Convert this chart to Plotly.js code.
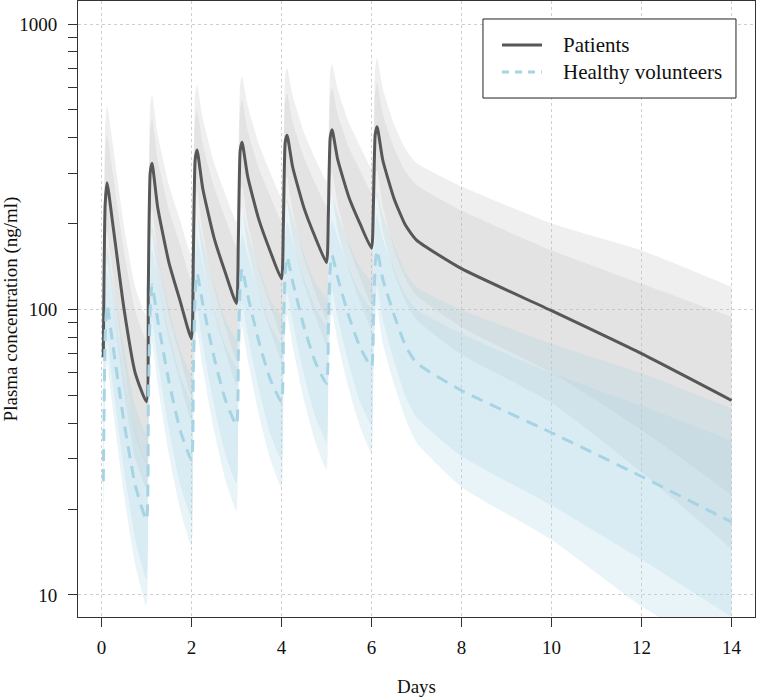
<!DOCTYPE html>
<html><head><meta charset="utf-8">
<script src="https://cdn.plot.ly/plotly-3.0.1.min.js"></script>
<style>html,body{margin:0;padding:0;background:#fff;}#chart{width:757px;height:699px;}</style>
</head><body><div id="chart"></div>
<script>
// time points (days)
const days = [0.042,0.083,0.125,0.25,0.5,0.75,1.0,
  1.042,1.083,1.125,1.25,1.5,1.75,2.0,
  2.042,2.083,2.125,2.25,2.5,2.75,3.0,
  3.042,3.083,3.125,3.25,3.5,3.75,4.0,
  4.042,4.083,4.125,4.25,4.5,4.75,5.0,
  5.042,5.083,5.125,5.25,5.5,5.75,6.0,
  6.042,6.083,6.125,6.25,6.5,6.75,7,8,10,12,14];

// Patients: median and prediction bands
const patMedian = [68,232,278,201,101,60,47.5,
  120,300,325,228,146,107,79,
  150,335,362,266,179,135,105,
  175,360,385,292,206,160,128,
  195,385,408,315,227,179,146,
  215,400,426,335,247,199,164,
  230,410,437,334,245,198,175,139,99,70,48];
const patOuterUpper = [122,429,520,382,197,120,95,
  206,516,569,410,273,205,154,
  255,570,612,468,328,254,203,
  299,616,658,517,379,302,247,
  335,662,702,561,418,338,282,
  366,680,724,590,450,372,313,
  396,705,760,595,446,366,326,270,200,161,120];
const patInnerUpper = [99,341,409,302,160,99,78,
  169,423,468,335,223,168,126,
  209,466,500,380,269,209,166,
  247,508,543,423,311,250,204,
  273,539,571,454,341,277,231,
  301,560,596,482,368,306,257,
  324,578,621,484,368,305,273,222,161,123,94];
const patInnerLower = [47,158,189,134,64,36.4,28.8,
  85,213,226,155,95.4,68.2,49.4,
  108,241,262,186,119,87.1,66.5,
  124,255,273,201,136,103,80.5,
  139,275,291,219,151,115,92.4,
  154,286,304,233,166,129,104,
  163,291,308,230,163,129,112,86.9,60,37.8,22.4];
const patOuterLower = [37.8,125,149,106,51.8,30,23.8,
  69.8,174,186,127,78.1,55.7,40.5,
  88.2,197,214,151,97.8,71.8,54.4,
  102,211,225,165,112,84.7,66.3,
  113,224,237,177,123,94.7,75.6,
  126,235,251,190,136,106,85.9,
  134,238,251,188,135,107,92.1,69.5,47.1,26.9,14.5];

// Healthy volunteers: median and prediction bands
const hvMedian = [25,80,104,76,40.5,24.3,18.3,
  45,100,122,92,56,37.8,29.7,
  60,115,134,105,68.3,48.5,39.4,
  70,122,139,112,77,57,47.5,
  80,135,153,125,87,65.5,55,
  88,140,155,129,94.4,73.5,63,
  92,145,161,128,96,75,65,52,37,26,18];
const hvOuterUpper = [40,128,166,128,72.9,46.2,36.6,
  72,160,195,155,101,71.8,59.4,
  96,184,214,176,123,92.2,78.8,
  112,195,222,188,139,108,95,
  128,216,245,210,157,124,110,
  141,224,248,217,170,140,126,
  147,232,258,215,168,135,120,99.8,75.9,59.8,45];
const hvInnerUpper = [33.3,106,138,105,59.5,37.7,29.3,
  59.9,133,162,127,82.3,58.6,47.5,
  79.8,153,178,145,100,75.2,63,
  93.1,162,185,155,113,88.4,76,
  106,180,203,173,128,102,88,
  117,186,206,178,139,114,101,
  122,193,214,177,139,113,100,82.2,59.9,46,34.7];
const hvInnerLower = [18.8,60.2,78.2,55.1,27.6,15.7,11.4,
  33.8,75.2,91.7,66.7,38.1,24.4,18.6,
  45.1,86.5,101,76.1,46.5,31.3,24.6,
  52.6,91.7,105,81.2,52.4,36.8,29.7,
  60.2,102,115,90.6,59.2,42.3,34.4,
  66.2,105,117,93.5,64.2,47.4,39.4,
  69.2,109,121,92.8,66.2,50,41.9,30.6,20.6,13.3,8.37];
const hvOuterLower = [15.6,50,65,45.2,22.5,12.8,9.15,
  28.1,62.5,76.3,54.8,31.1,19.9,14.9,
  37.5,71.9,83.8,62.5,37.9,25.5,19.7,
  43.8,76.3,86.9,66.7,42.8,30,23.8,
  50,84.4,95.6,74.4,48.3,34.5,27.5,
  55,87.5,96.9,76.8,52.4,38.7,31.5,
  57.5,90.6,101,76.2,54.9,41.7,34.2,23.9,15.6,9.12,6];

const xTicks = [0,2,4,6,8,10,12,14];
const yMajor = [10,100,1000];
const yMinor = [20,30,40,50,60,70,80,90,200,300,400,500,600,700,800,900];
const seriesNames = ['Patients','Healthy volunteers'];

const FONT = 'Liberation Serif';
const GRAY_FILL = 'rgba(190,190,190,0.24)';
const BLUE_FILL = 'rgba(173,216,230,0.27)';
const PAT_COLOR = '#575757';
const HV_COLOR = '#a6d4e4';
const HV_DASH = '12px,8px';
const SMOOTH = 0.5;

function band(lo, hi, color){
  return [
    {x: days, y: lo, mode:'lines', line:{width:0, color:'rgba(0,0,0,0)', shape:'spline', smoothing:SMOOTH}, showlegend:false, hoverinfo:'skip'},
    {x: days, y: hi, mode:'lines', line:{width:0, color:'rgba(0,0,0,0)', shape:'spline', smoothing:SMOOTH}, fill:'tonexty', fillcolor:color, showlegend:false, hoverinfo:'skip'}
  ];
}

const traces = [].concat(
  band(patOuterLower, patOuterUpper, GRAY_FILL),
  band(patInnerLower, patInnerUpper, GRAY_FILL),
  band(hvOuterLower, hvOuterUpper, BLUE_FILL),
  band(hvInnerLower, hvInnerUpper, BLUE_FILL),
  [
    {x: days, y: patMedian, mode:'lines', name: seriesNames[0], showlegend:false, line:{color:PAT_COLOR, width:3, shape:'spline', smoothing:SMOOTH}},
    {x: days, y: hvMedian, mode:'lines', name: seriesNames[1], showlegend:false, line:{color:HV_COLOR, width:3, dash:HV_DASH, shape:'spline', smoothing:SMOOTH}}
  ]
);

const axisCommon = {
  ticks:'outside', ticklen:9, tickcolor:'#333', tickwidth:1,
  showline:true, linecolor:'#333', linewidth:1, mirror:true,
  zeroline:false, gridcolor:'#cfcfcf', griddash:'dot', gridwidth:1,
  tickfont:{family:FONT, size:19, color:'#111'}
};

// legend box (paper coordinates)
const LEG = {x0:0.5982, x1:0.9719, y0:0.8425, y1:0.9708, lx0:0.6263, lx1:0.6854, tx:0.7134, rows:[0.9286, 0.8847]};

const layout = {
  width:757, height:699,
  margin:{l:78, r:2, t:1, b:82},
  paper_bgcolor:'#fff', plot_bgcolor:'#fff',
  font:{family:FONT, color:'#111'},
  showlegend:false,
  xaxis: Object.assign({}, axisCommon, {
    range:[-0.52, 14.52], tickvals:xTicks, showgrid:true, ticklabelstandoff:4,
    title:{text:'Days', font:{family:FONT, size:19, color:'#111'}, standoff:22}
  }),
  yaxis: Object.assign({}, axisCommon, {
    type:'log', range:[Math.log10(8.37), Math.log10(1204)],
    tickvals:yMajor, ticktext:yMajor.map(String), showgrid:true, ticklabelstandoff:7,
    minor:{tickvals:yMinor, ticks:'outside', ticklen:9, tickcolor:'#333', showgrid:false},
    title:{text:'Plasma concentration (ng/ml)', font:{family:FONT, size:19, color:'#111'}, standoff:6}
  }),
  shapes:[
    {type:'line', xref:'paper', x0:0, x1:1, yref:'y', y0:Math.log10(Math.sqrt(1000)), y1:Math.log10(Math.sqrt(1000)), line:{color:'#cfcfcf', width:1, dash:'dot'}, layer:'below'},
    {type:'line', xref:'paper', x0:0, x1:1, yref:'y', y0:Math.log10(Math.sqrt(100000)), y1:Math.log10(Math.sqrt(100000)), line:{color:'#cfcfcf', width:1, dash:'dot'}, layer:'below'},
    {type:'rect', xref:'paper', yref:'paper', x0:LEG.x0, x1:LEG.x1, y0:LEG.y0, y1:LEG.y1, fillcolor:'#fff', line:{color:'#222', width:1}},
    {type:'line', xref:'paper', yref:'paper', x0:LEG.lx0, x1:LEG.lx1, y0:LEG.rows[0], y1:LEG.rows[0], line:{color:PAT_COLOR, width:3}},
    {type:'line', xref:'paper', yref:'paper', x0:LEG.lx0, x1:LEG.lx1, y0:LEG.rows[1], y1:LEG.rows[1], line:{color:HV_COLOR, width:3, dash:'7px,6px'}}
  ],
  annotations: seriesNames.map((n,i)=>({xref:'paper', yref:'paper', x:LEG.tx, y:LEG.rows[i], xanchor:'left', yanchor:'middle',
    text:n, showarrow:false, font:{family:FONT, size:21, color:'#111'}}))
};

Plotly.newPlot('chart', traces, layout, {displayModeBar:false, staticPlot:true});
</script>
</body></html>
